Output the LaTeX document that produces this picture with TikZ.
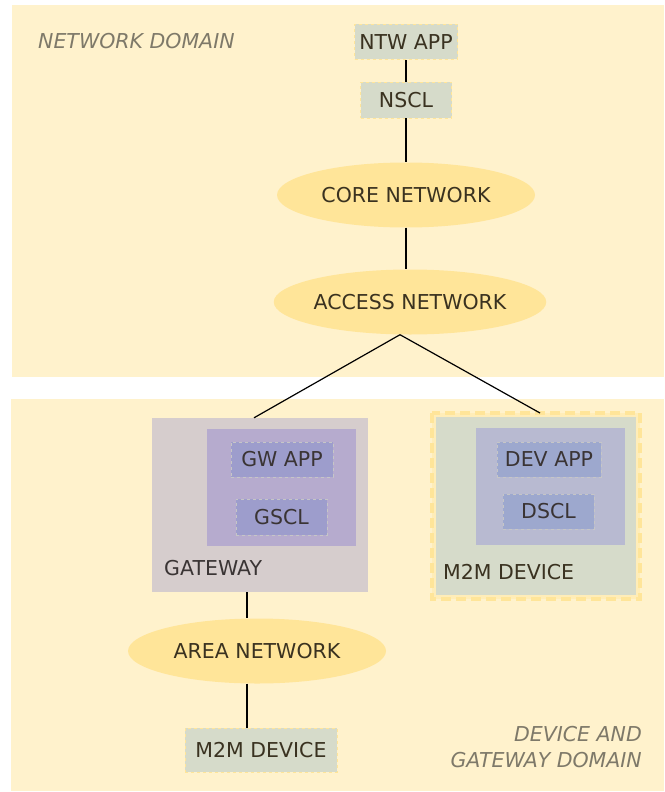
\documentclass[tikz,border=0pt]{standalone}
\usepackage{fontspec}
\setmainfont{DejaVu Sans}
\usetikzlibrary{shapes.geometric,positioning,calc}
\definecolor{domfill}{HTML}{FFF2CC}
\definecolor{netfill}{HTML}{FFE599}
\definecolor{devfill}{HTML}{D6DBCA}
\definecolor{gwfill}{HTML}{D6CDCD}
\definecolor{gwinner}{HTML}{B6ABCE}
\definecolor{devinner}{HTML}{B8BAD1}
\definecolor{gwapp}{HTML}{9D9DCC}
\definecolor{devapp}{HTML}{9DA8CE}
\definecolor{txtdark}{HTML}{3A3220}
\definecolor{txtgrey}{HTML}{3A3434}
\definecolor{domtxt}{HTML}{7E7969}
\tikzstyle{dominio} = [fill=domfill, draw=none]
\tikzstyle{rete} = [ellipse, fill=netfill, minimum width=258pt, minimum height=65pt, text=txtdark, inner sep=0pt]
\tikzstyle{blocco} = [rectangle, fill=devfill, draw=netfill, dashed, line width=0.8pt, text=txtdark, inner sep=0pt]
\tikzstyle{scl} = [rectangle, draw=gray!45, dashed, line width=0.5pt, text=txtgrey, inner sep=0pt]
\tikzstyle{contenitore} = [rectangle, inner sep=0pt]
\tikzstyle{etichetta} = [inner sep=0pt, anchor=west]
\tikzstyle{linea} = [line width=1.2pt, black]

\begin{document}
\begin{tikzpicture}[x=1pt,y=-1pt,font=\fontsize{20.5}{26}\selectfont]
						\useasboundingbox (0,0) rectangle (664,792);
						% domini
						\fill[dominio] (12,5) rectangle (664,377);
						\fill[dominio] (11,399) rectangle (664,791);
						\node[etichetta, text=domtxt, font=\fontsize{20.5}{26}\selectfont\itshape] (ntwdom) at (38,41) {NETWORK DOMAIN};
						\node[inner sep=0pt, anchor=east, align=right, text=domtxt, font=\fontsize{20.5}{26}\selectfont\itshape] (devdom) at (642,747) {DEVICE AND\\GATEWAY DOMAIN};
						% network domain
						\node (ntwapp) at (406,42) [blocco, minimum width=103pt, minimum height=35pt] {NTW APP};
						\node (nscl) at (406,100) [blocco, minimum width=91pt, minimum height=36pt] {NSCL};
						\node (core) at (406,195) [rete] {CORE NETWORK};
						\node (access) at (410,302) [rete] {ACCESS NETWORK};
						\coordinate (split) at ([xshift=-10pt]access.south);
						% gateway
						\node (gateway) at (260,505) [contenitore, fill=gwfill, minimum width=216pt, minimum height=174pt] {};
						\node (gwin) at (281.5,487.5) [contenitore, fill=gwinner, minimum width=149pt, minimum height=117pt] {};
						\node (gwapp) at (282,459.5) [scl, fill=gwapp, minimum width=102pt, minimum height=35pt] {GW APP};
						\node (gscl) at (281.5,517) [scl, fill=gwapp, minimum width=91pt, minimum height=36pt] {GSCL};
						\node[etichetta, text=txtgrey] (gwlab) at (164,568) {GATEWAY};
						% m2m device
						\node (m2mdev) at (536,506) [contenitore, fill=devfill, draw=netfill!40!domfill, line width=4pt, minimum width=204pt, minimum height=182pt] {};
						\draw[netfill, line width=4pt, dash pattern=on 10pt off 5pt] (m2mdev.north west) rectangle (m2mdev.south east);
						\node (devin) at (550.5,486.5) [contenitore, fill=devinner, minimum width=149pt, minimum height=117pt] {};
						\node (devapp) at (549,459.5) [scl, fill=devapp, minimum width=104pt, minimum height=35pt] {DEV APP};
						\node (dscl) at (548.5,511.5) [scl, fill=devapp, minimum width=91pt, minimum height=35pt] {DSCL};
						\node[etichetta, text=txtdark] (devlab) at (443,572) {M2M DEVICE};
						% area network
						\node (area) at (257,651) [rete] {AREA NETWORK};
						\node (device) at (261,750) [blocco, minimum width=152pt, minimum height=44pt] {M2M DEVICE};
						
						\draw[linea] (ntwapp) -- (nscl);
						\draw[linea, line width=2pt] (nscl) -- (core);
						\draw[linea] (core.south) -- (core.south |- access.north);
						\draw[linea] (split) -- ([xshift=-6pt]gateway.north);
						\draw[linea] (split) -- ([xshift=4pt]m2mdev.north);
						\draw[linea] ([xshift=-10pt]area.north |- gateway.south) -- ([xshift=-10pt]area.north);
						\draw[linea] ([xshift=-10pt]area.south) -- ([xshift=-10pt]area.south |- device.north);
					\end{tikzpicture}
\end{document}
